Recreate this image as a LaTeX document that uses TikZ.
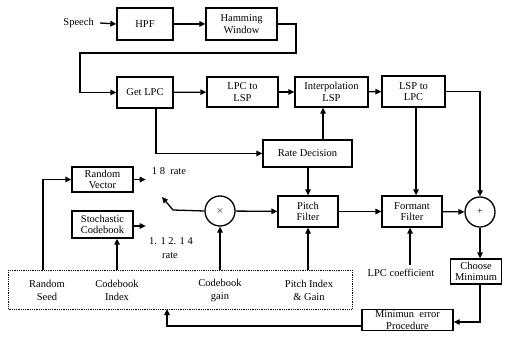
\documentclass[tikz,border=0pt]{standalone}
\usepackage{fontspec}
\setmainfont{Liberation Serif}
\usetikzlibrary{arrows.meta}
\begin{document}
\begin{tikzpicture}[x=1pt,y=-1pt,
  blk/.style={draw,line width=1.3pt,inner sep=0pt,font=\fontsize{10.5}{11.5}\selectfont,align=center},
  lbl/.style={inner sep=0pt,align=center,font=\fontsize{10.5}{13}\selectfont},
  circ/.style={draw,circle,line width=1.3pt,minimum size=30pt,inner sep=0pt},
  arr/.style={line width=1.3pt,-{Triangle[length=6pt,width=5.5pt]}},
  ln/.style={line width=1.3pt}]
\useasboundingbox (0,0) rectangle (510,344);
% top row
\node[lbl,anchor=east] (speech) at (94,23) {Speech};
\node[blk,minimum width=56pt,minimum height=32pt] (hpf) at (145,24) {HPF};
\node[blk,minimum width=71pt,minimum height=32pt] (ham) at (241.5,24) {Hamming\\Window};
% second row
\node[blk,minimum width=56pt,minimum height=31pt] (getlpc) at (145,92.5) {Get LPC};
\node[blk,minimum width=71pt,minimum height=30pt] (lpc2lsp) at (242.5,92) {LPC to\\LSP};
\node[blk,minimum width=73pt,minimum height=30pt] (interp) at (331.5,92) {Interpolation\\LSP};
\node[blk,minimum width=63pt,minimum height=31pt] (lsp2lpc) at (413.5,91.5) {LSP to\\LPC};
% rate decision
\node[blk,minimum width=89pt,minimum height=27pt] (rate) at (307.5,153.5) {Rate Decision};
% third row
\node[blk,minimum width=61pt,minimum height=25pt] (rv) at (102.5,179.5) {Random\\Vector};
\node[blk,minimum width=61pt,minimum height=27pt] (stoch) at (102.5,224.5) {Stochastic\\Codebook};
\node[circ] (times) at (220,211) {$\times$};
\node[blk,minimum width=60pt,minimum height=31pt] (pitch) at (308,211.5) {Pitch\\Filter};
\node[blk,minimum width=60pt,minimum height=31pt] (formant) at (412,211.5) {Formant\\Filter};
\node[circ] (plus) at (480,212) {+};
\node[blk,minimum width=51pt,minimum height=25pt] (choose) at (476,271.5) {Choose\\Minimum};
\node[blk,minimum width=91pt,minimum height=21pt] (minerr) at (407.5,320) {Minimun\ \ error\\Procedure};
% labels
\node[lbl] (r18) at (169,171) {1 8\ \ rate};
\node[lbl] (r124) at (171,241) {1. 1 2. 1 4};
\node[lbl] (rate2) at (170,256) {rate};
\node[lbl] (lpccoef) at (401,273) {LPC coefficient};
% dotted parameter box
\draw[densely dotted,line width=0.8pt] (8,270) rectangle (352,309);
\node[lbl] (seed) at (47,290) {Random\\Seed};
\node[lbl] (cbidx) at (117,290) {Codebook\\Index};
\node[lbl] (cbgain) at (220,290) {Codebook\\gain};
\node[lbl] (pidx) at (309,290) {Pitch Index\\\& Gain};
\coordinate (dseed) at (43,270);
\coordinate (didx) at (117,270);
\coordinate (dgain) at (220,270);
\coordinate (dpitch) at (308,270);
\coordinate (dbot) at (167,309);
\coordinate (lpcc) at (410,265);
\coordinate (hamturn) at (296,24);
\coordinate (hamback) at (296,53);
\coordinate (hamleft) at (80,53);
\coordinate (xget) at (156,0);
\coordinate (xint) at (323,0);
\coordinate (xfor) at (416,0);
\coordinate (swbend) at (173,210);
\coordinate (swtip) at (162,197);
% connectors
\draw[arr] ([xshift=6pt]speech.east) -- (hpf.west);
\draw[arr] (hpf) -- (ham);
\draw[arr] (ham.east) -- (hamturn) -- (hamback) -- (hamleft) |- (getlpc.west);
\draw[arr] (getlpc) -- (lpc2lsp);
\draw[arr] (lpc2lsp) -- (interp);
\draw[arr] (interp) -- (lsp2lpc);
\draw[arr] (lsp2lpc.east) -| (plus.north);
\draw[arr] (getlpc.south -| xget) |- (rate.west);
\draw[arr] (rate.north -| xint) -- (interp.south -| xint);
\draw[arr] (rate.south -| pitch.north) -- (pitch.north);
\draw[arr] (lsp2lpc.south -| xfor) -- (formant.north -| xfor);
\draw[arr] (times) -- (pitch);
\draw[arr] (pitch) -- (formant);
\draw[arr] (formant) -- (plus);
\draw[arr] (plus.south) -- (plus.south |- choose.north);
\draw[arr] (plus.south |- choose.south) |- ([yshift=-2pt]minerr.east);
\draw[arr] ([yshift=-6pt]minerr.west) -| (dbot);
\draw[arr] (dseed) |- (rv.west);
\draw[arr] (rv.east) -- ++(12,0);
\draw[arr] ([yshift=-1.5pt]stoch.east) -- ++(12,0);
\draw[arr] (times.west) -- (swbend) -- (swtip);
\draw[arr] (didx) -- (didx |- stoch.south);
\draw[arr] (dgain) -- (times.south);
\draw[arr] (dpitch) -- (pitch.south);
\draw[arr] (lpcc) -- (lpcc |- formant.south);
\end{tikzpicture}
\end{document}
